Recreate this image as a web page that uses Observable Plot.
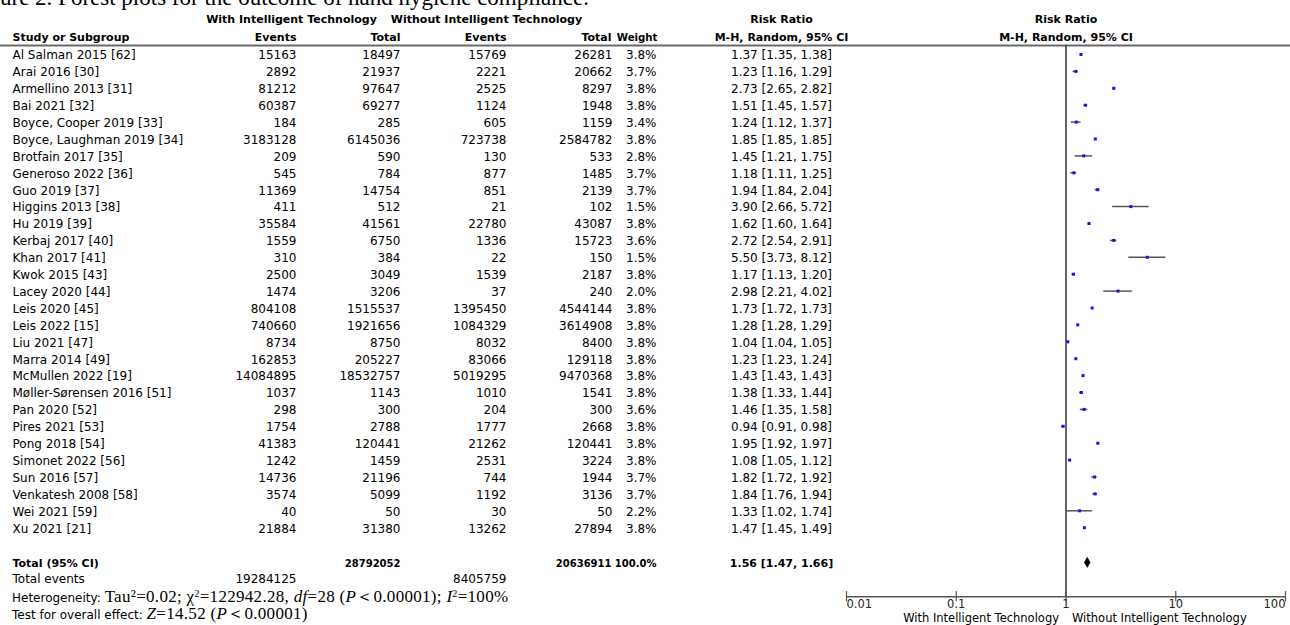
<!DOCTYPE html>
<html><head><meta charset="utf-8">
<script src="https://cdn.jsdelivr.net/npm/d3@7"></script>
<script src="https://cdn.jsdelivr.net/npm/@observablehq/plot@0.6"></script>
<style>
body{margin:0;background:#fff;}
#wrap{position:relative;width:1290px;height:625px;overflow:hidden;font-family:"DejaVu Sans",sans-serif;color:#000;}
#wrap svg{position:absolute;left:0;top:0;}
#title{position:absolute;left:0;top:-14px;font-family:"Liberation Serif",serif;font-size:23px;white-space:nowrap;line-height:1;}
.stat{position:absolute;left:12px;font-size:12px;white-space:nowrap;line-height:13px;}
.serif{font-family:"Liberation Serif",serif;font-size:17px;letter-spacing:0.3px;}
.serif sup{font-size:10px;vertical-align:5px;line-height:0;}
</style></head>
<body><div id="wrap"><div id="title">ure 2. Forest plots for the outcome of hand hygiene compliance.</div></div>
<script>
// ---- data ----
const studies = ["Al Salman 2015 [62]","Arai 2016 [30]","Armellino 2013 [31]","Bai 2021 [32]","Boyce, Cooper 2019 [33]","Boyce, Laughman 2019 [34]","Brotfain 2017 [35]","Generoso 2022 [36]","Guo 2019 [37]","Higgins 2013 [38]","Hu 2019 [39]","Kerbaj 2017 [40]","Khan 2017 [41]","Kwok 2015 [43]","Lacey 2020 [44]","Leis 2020 [45]","Leis 2022 [15]","Liu 2021 [47]","Marra 2014 [49]","McMullen 2022 [19]","Møller-Sørensen 2016 [51]","Pan 2020 [52]","Pires 2021 [53]","Pong 2018 [54]","Simonet 2022 [56]","Sun 2016 [57]","Venkatesh 2008 [58]","Wei 2021 [59]","Xu 2021 [21]"];
const eventsWith = [15163,2892,81212,60387,184,3183128,209,545,11369,411,35584,1559,310,2500,1474,804108,740660,8734,162853,14084895,1037,298,1754,41383,1242,14736,3574,40,21884];
const totalWith = [18497,21937,97647,69277,285,6145036,590,784,14754,512,41561,6750,384,3049,3206,1515537,1921656,8750,205227,18532757,1143,300,2788,120441,1459,21196,5099,50,31380];
const eventsWithout = [15769,2221,2525,1124,605,723738,130,877,851,21,22780,1336,22,1539,37,1395450,1084329,8032,83066,5019295,1010,204,1777,21262,2531,744,1192,30,13262];
const totalWithout = [26281,20662,8297,1948,1159,2584782,533,1485,2139,102,43087,15723,150,2187,240,4544144,3614908,8400,129118,9470368,1541,300,2668,120441,3224,1944,3136,50,27894];
const weights = [3.8,3.7,3.8,3.8,3.4,3.8,2.8,3.7,3.7,1.5,3.8,3.6,1.5,3.8,2.0,3.8,3.8,3.8,3.8,3.8,3.8,3.6,3.8,3.8,3.8,3.7,3.7,2.2,3.8];
const rr = [1.37,1.23,2.73,1.51,1.24,1.85,1.45,1.18,1.94,3.90,1.62,2.72,5.50,1.17,2.98,1.73,1.28,1.04,1.23,1.43,1.38,1.46,0.94,1.95,1.08,1.82,1.84,1.33,1.47];
const ciLow = [1.35,1.16,2.65,1.45,1.12,1.85,1.21,1.11,1.84,2.66,1.60,2.54,3.73,1.13,2.21,1.72,1.28,1.04,1.23,1.43,1.33,1.35,0.91,1.92,1.05,1.72,1.76,1.02,1.45];
const ciHigh = [1.38,1.29,2.82,1.57,1.37,1.85,1.75,1.25,2.04,5.72,1.64,2.91,8.12,1.20,4.02,1.73,1.29,1.05,1.24,1.43,1.44,1.58,0.98,1.97,1.12,1.92,1.94,1.74,1.49];
const totalRow = {totalWith: 28792052, totalWithout: 20636911, weight: 100.0, rr: 1.56, lo: 1.47, hi: 1.66};
const totalEvents = {with: 19284125, without: 8405759};
const tickValues = [0.01, 0.1, 1, 10, 100];
const tickLabels = ["0.01", "0.1", "1", "10", "100"];
const groupWith = "With Intelligent Technology";
const groupWithout = "Without Intelligent Technology";

// ---- layout (row indices / column offsets) ----
const R_GROUP = -2.05, R_HEAD = -1.0, R_SEP = -0.53, R_TOTAL = 30.05, R_EVENTS = 31.0, R_AXIS = 32.08, R_TICKLAB = 32.55, R_FAV = 33.36;
const fmtRR = (r, l, h) => `${r.toFixed(2)} [${l.toFixed(2)}, ${h.toFixed(2)}]`;

const rows = studies.map((s, i) => ({
  row: i, study: s, ew: String(eventsWith[i]), tw: String(totalWith[i]),
  eo: String(eventsWithout[i]), to: String(totalWithout[i]),
  wt: weights[i].toFixed(1) + "%", rr: rr[i], lo: ciLow[i], hi: ciHigh[i],
  rrText: fmtRR(rr[i], ciLow[i], ciHigh[i])
}));

const cols = [
  {key: "study", dx: 12, anchor: "start"},
  {key: "ew", dx: 296, anchor: "end"},
  {key: "tw", dx: 400, anchor: "end"},
  {key: "eo", dx: 506, anchor: "end"},
  {key: "to", dx: 612, anchor: "end"},
  {key: "wt", dx: 656, anchor: "end"},
  {key: "rrText", dx: 781, anchor: "middle"}
];

const txt = (data, opts) => Plot.text(data, Object.assign({frameAnchor: "left", fill: "#000", lineAnchor: "middle", fontSize: 12}, opts));
const bold = {fontWeight: "bold", fontSize: 11};
const boldNum = {fontWeight: "bold", fontSize: 10};

const marks = [];
// separator
marks.push(Plot.ruleY([R_SEP], {y: d => d, stroke: "#6a6a6a", strokeWidth: 2}));
// group headers
marks.push(txt([groupWith], {text: d => d, y: () => R_GROUP, dx: 291, textAnchor: "middle", ...bold}));
marks.push(txt([groupWithout], {text: d => d, y: () => R_GROUP, dx: 486, textAnchor: "middle", ...bold}));
marks.push(txt(["Risk Ratio"], {text: d => d, y: () => R_GROUP, dx: 781, textAnchor: "middle", ...bold}));
const headers = [["Study or Subgroup", 12, "start"], ["Events", 296, "end"], ["Total", 400, "end"], ["Events", 506, "end"], ["Total", 611, "end"], ["Weight", 657, "end"], ["M-H, Random, 95% CI", 781, "middle"]];
for (const [t, dx, a] of headers) marks.push(txt([t], {text: d => d, y: () => R_HEAD, dx, textAnchor: a, ...bold, fontSize: t === "Weight" ? 10.2 : 11}));
// forest headers, centred on RR = 1
marks.push(Plot.text(["Risk Ratio"], {text: d => d, x: () => 1, y: () => R_GROUP, ...bold}));
marks.push(Plot.text(["M-H, Random, 95% CI"], {text: d => d, x: () => 1, y: () => R_HEAD, ...bold}));
// body
for (const c of cols) marks.push(txt(rows, {text: c.key, y: "row", dx: c.dx, dy: 1, textAnchor: c.anchor}));
// total row
const tot = [totalRow];
marks.push(txt(tot, {text: () => "Total (95% CI)", y: () => R_TOTAL, dx: 12, dy: 1, textAnchor: "start", ...bold}));
marks.push(txt(tot, {text: d => String(d.totalWith), y: () => R_TOTAL, dx: 400, dy: 1, textAnchor: "end", ...boldNum}));
marks.push(txt(tot, {text: d => String(d.totalWithout), y: () => R_TOTAL, dx: 611, dy: 1, textAnchor: "end", ...boldNum}));
marks.push(txt(tot, {text: d => d.weight.toFixed(1) + "%", y: () => R_TOTAL, dx: 656, dy: 1, textAnchor: "end", ...boldNum}));
marks.push(txt(tot, {text: d => fmtRR(d.rr, d.lo, d.hi), y: () => R_TOTAL, dx: 781, dy: 1, textAnchor: "middle", ...bold}));
// total events
const te = [totalEvents];
marks.push(txt(te, {text: () => "Total events", y: () => R_EVENTS, dx: 12, dy: 1, textAnchor: "start"}));
marks.push(txt(te, {text: d => String(d.with), y: () => R_EVENTS, dx: 296, dy: 1, textAnchor: "end"}));
marks.push(txt(te, {text: d => String(d.without), y: () => R_EVENTS, dx: 506, dy: 1, textAnchor: "end"}));

// forest plot
marks.push(Plot.ruleX([1], {x: d => d, y1: () => R_SEP, y2: () => R_AXIS, stroke: "#333", strokeWidth: 1.5}));
marks.push(Plot.ruleY(rows, {y: "row", x1: "lo", x2: "hi", stroke: "#555", strokeWidth: 1.5}));
marks.push(Plot.dot(rows, {x: "rr", y: "row", symbol: "square", r: 1.7, fill: "#1414e6", stroke: null}));
const diamond = [
  {x: totalRow.lo, y: R_TOTAL}, {x: totalRow.rr, y: R_TOTAL - 0.3},
  {x: totalRow.hi, y: R_TOTAL}, {x: totalRow.rr, y: R_TOTAL + 0.3}, {x: totalRow.lo, y: R_TOTAL}
];
marks.push(Plot.line(diamond, {x: "x", y: "y", fill: "#000", stroke: "#000", strokeWidth: 0.5, curve: "linear"}));
// axis
marks.push(Plot.ruleY([R_AXIS], {y: d => d, x1: () => tickValues[0], x2: () => tickValues[tickValues.length - 1], stroke: "#555", strokeWidth: 1.5}));
marks.push(Plot.ruleX(tickValues, {x: d => d, y1: () => R_AXIS - 0.3, y2: () => R_AXIS + 0.3, stroke: "#555", strokeWidth: 1.2}));
const tl = tickValues.map((v, i) => ({v, label: tickLabels[i], i}));
const tickFont = 11.5;
marks.push(Plot.text(tl.filter(d => d.i === 0), {x: "v", y: () => R_TICKLAB, text: "label", textAnchor: "start", fill: "#222", fontSize: tickFont}));
marks.push(Plot.text(tl.filter(d => d.i > 0 && d.i < tl.length - 1), {x: "v", y: () => R_TICKLAB, text: "label", textAnchor: "middle", fill: "#222", fontSize: tickFont}));
marks.push(Plot.text(tl.filter(d => d.i === tl.length - 1), {x: "v", y: () => R_TICKLAB, text: "label", textAnchor: "end", fill: "#222", fontSize: tickFont}));
marks.push(Plot.text([groupWith], {text: d => d, x: () => 1, y: () => R_FAV, textAnchor: "end", dx: -7, fill: "#000", fontSize: 11.5}));
marks.push(Plot.text([groupWithout], {text: d => d, x: () => 1, y: () => R_FAV, textAnchor: "start", dx: 6, fill: "#000", fontSize: 11.5}));

const plot = Plot.plot({
  width: 1290, height: 625, margin: 0,
  style: {fontFamily: "'DejaVu Sans', sans-serif", fontSize: "12px", color: "#000", background: "transparent", overflow: "visible"},
  x: {type: "log", domain: [tickValues[0], tickValues[tickValues.length - 1]], range: [846, 1285], axis: null},
  y: {type: "linear", domain: [0, 28], range: [54, 527.2], axis: null},
  marks
});
const wrap = document.getElementById("wrap");
wrap.appendChild(plot);

const ys = plot.scale("y");
const het = document.createElement("div");
het.className = "stat";
het.style.top = (ys.apply(R_AXIS) - 6) + "px";
het.innerHTML = 'Heterogeneity: <span class="serif">Tau²=0.02; χ<sup>2</sup>=122942.28, <i>df</i>=28 (<i>P</i>＜0.00001); <i>I</i><sup>2</sup>=100%</span>';
wrap.appendChild(het);
const oe = document.createElement("div");
oe.className = "stat";
oe.style.top = (ys.apply(R_AXIS + 1) - 6) + "px";
oe.innerHTML = 'Test for overall effect: <span class="serif"><i>Z</i>=14.52 (<i>P</i>＜0.00001)</span>';
wrap.appendChild(oe);
</script>
</body></html>
